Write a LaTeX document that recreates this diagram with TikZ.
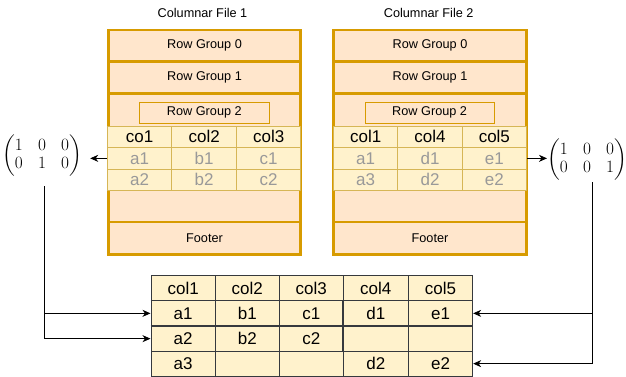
\documentclass[tikz,border=0pt]{standalone}
\usepackage{amsmath}
\usepackage[no-math]{fontspec}
\newfontfamily\dio{Liberation Sans}
\usetikzlibrary{arrows.meta}
\definecolor{secfill}{HTML}{FFE6CC}
\definecolor{secline}{HTML}{D79B00}
\definecolor{cellfill}{HTML}{FFF2CC}
\definecolor{cellline}{HTML}{D6B656}
\definecolor{datagray}{HTML}{999999}
\definecolor{gridline}{HTML}{36393D}
\newcommand{\matfont}{\fontsize{16}{18.5}\selectfont\arraycolsep=7.6pt}
\begin{document}
\begin{tikzpicture}[x=1pt,y=-1pt,
  title/.style={font=\dio\fontsize{12.7}{14}\selectfont, inner sep=0pt},
  sec/.style={draw=secline, fill=secfill, line width=2.8pt, inner sep=0pt,
    minimum width=192.4pt, font=\dio\fontsize{12.7}{14}\selectfont},
  rglabel/.style={draw=secline, fill=secfill, line width=1pt, inner sep=0pt,
    minimum width=129.3pt, minimum height=21pt, font=\dio\fontsize{12.7}{14}\selectfont},
  cell/.style={draw=cellline, fill=cellfill, line width=1pt, inner sep=0pt,
    minimum width=64.6pt, minimum height=21.6pt, font=\dio\fontsize{17}{19}\selectfont},
  bcell/.style={draw=gridline, fill=cellfill, line width=0.9pt, inner sep=0pt,
    minimum width=64.4pt, minimum height=25pt, font=\dio\fontsize{17}{19}\selectfont},
  mat/.style={inner sep=0pt},
  conn/.style={draw=black, line width=0.8pt},
  arr/.style={conn, -{Stealth[length=8pt,width=7pt,inset=2.5pt]}}
]
\useasboundingbox (0,0) rectangle (626,377);

% titles
\node[title] (tt1) at (202.5,13) {Columnar File 1};
\node[title] (tt2) at (428.7,13) {Columnar File 2};

% file 1 sections
\node[sec, minimum height=31.5pt] (f1rg0) at (204.5,45.75) {Row Group 0};
\node[sec, minimum height=32pt] (f1rg1) at (204.5,77.5) {Row Group 1};
\node[sec, minimum height=128.5pt] (f1rg2) at (204.5,157.75) {};
\node[sec, minimum height=32.5pt] (f1ft) at (204.5,238.25) {Footer};
\node[rglabel] (f1lab) at (204.35,112.8) {Row Group 2};

% file 2 sections
\node[sec, minimum height=31.5pt] (f2rg0) at (430,45.75) {Row Group 0};
\node[sec, minimum height=32pt] (f2rg1) at (430,77.5) {Row Group 1};
\node[sec, minimum height=128.5pt] (f2rg2) at (430,157.75) {};
\node[sec, minimum height=32.5pt] (f2ft) at (430,238.25) {Footer};
\node[rglabel] (f2lab) at (429.65,112.8) {Row Group 2};

% file 1 table
\foreach \yy/\ta/\tb/\tc/\tcol [count=\i] in
  {136.85/co1/col2/col3/black, 158.35/a1/b1/c1/datagray, 179.85/a2/b2/c2/datagray}{
  \node[cell, text=\tcol] (t1-\i-1) at (139.65,\yy) {\ta};
  \node[cell, text=\tcol] (t1-\i-2) at (204.15,\yy) {\tb};
  \node[cell, text=\tcol] (t1-\i-3) at (268.65,\yy) {\tc};
}
% file 2 table
\foreach \yy/\ta/\tb/\tc/\tcol [count=\i] in
  {136.85/col1/col4/col5/black, 158.35/a1/d1/e1/datagray, 179.85/a3/d2/e2/datagray}{
  \node[cell, text=\tcol] (t2-\i-1) at (365.65,\yy) {\ta};
  \node[cell, text=\tcol] (t2-\i-2) at (430,\yy) {\tb};
  \node[cell, text=\tcol] (t2-\i-3) at (494.35,\yy) {\tc};
}

% matrices
\node[mat, minimum width=96pt, minimum height=60pt] (m1) at (42,156)
  {\matfont$\begin{pmatrix}1&0&0\\0&1&0\end{pmatrix}$};
\node[mat, minimum width=68pt, minimum height=44pt] (m2) at (587,160)
  {\matfont$\begin{pmatrix}1&0&0\\0&0&1\end{pmatrix}$};

% result table
\foreach \yy/\ta/\tb/\tc/\td/\te [count=\i] in
  {288.35/col1/col2/col3/col4/col5, 313.35/a1/b1/c1/d1/e1,
   338.65/a2/b2/c2//, 363.65/a3///d2/e2}{
  \node[bcell] (b-\i-1) at (183.15,\yy) {\ta};
  \node[bcell] (b-\i-2) at (247.3,\yy) {\tb};
  \node[bcell] (b-\i-3) at (311.3,\yy) {\tc};
  \node[bcell] (b-\i-4) at (375.8,\yy) {\td};
  \node[bcell] (b-\i-5) at (440.5,\yy) {\te};
}
\draw[gridline, line width=1.8pt] (b-2-1.north west) -- (b-2-5.north east);
\draw[gridline, line width=1.8pt] (b-3-1.north west) -- (b-3-5.north east);
\draw[gridline, line width=1.8pt] (b-2-4.north west) -- (b-3-4.south west);

% connectors
\draw[arr] (t1-2-1.west) -- (t1-2-1.west -| m1.east);
\draw[arr] (t2-2-3.east) -- (t2-2-3.east -| m2.west);
\draw[arr] ([xshift=2pt]m1.south) |- (b-2-1.west);
\draw[arr] ([xshift=2pt]m1.south) |- (b-3-1.west);
\draw[arr] ([xshift=5pt]m2.south) |- (b-2-5.east);
\draw[arr] ([xshift=5pt]m2.south) |- (b-4-5.east);
\end{tikzpicture}
\end{document}
